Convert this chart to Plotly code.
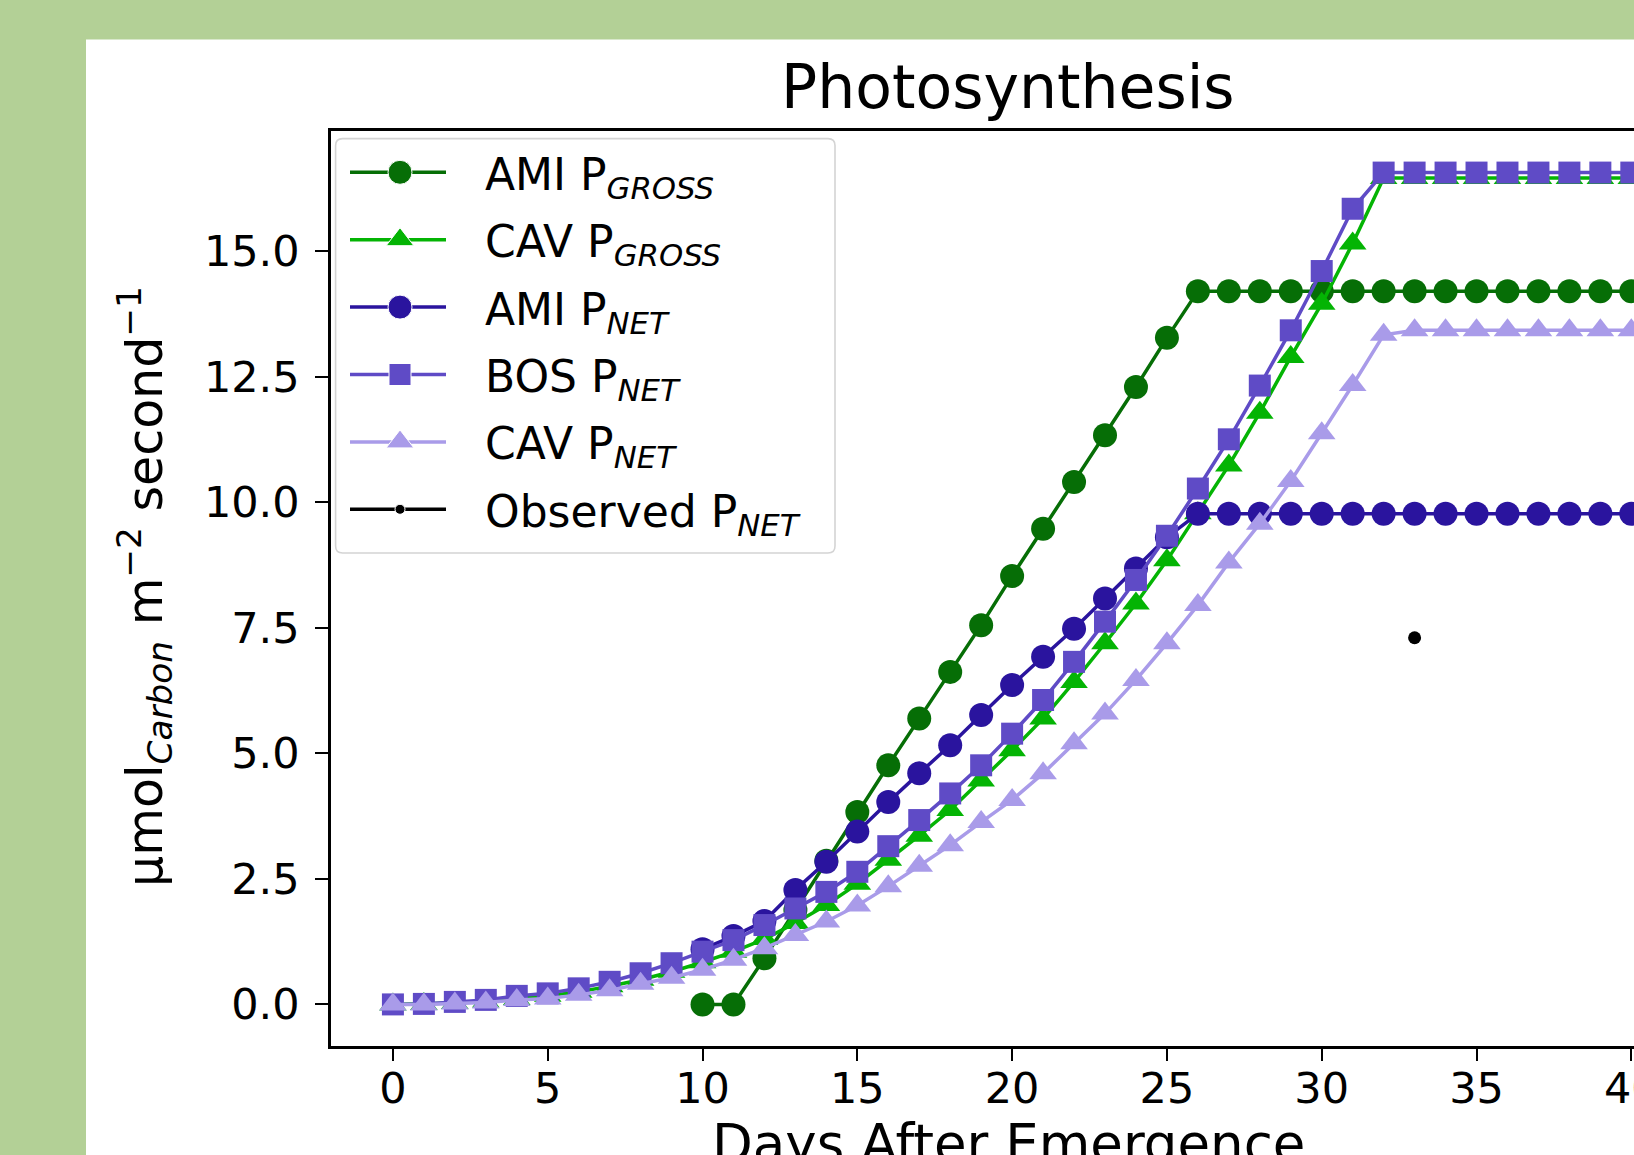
import plotly.graph_objects as go

# ---------------- data ----------------
days = [0, 1, 2, 3, 4, 5, 6, 7, 8, 9, 10, 11, 12, 13, 14, 15, 16, 17, 18, 19, 20,
        21, 22, 23, 24, 25, 26, 27, 28, 29, 30, 31, 32, 33, 34, 35, 36, 37, 38, 39, 40]

ami_gross = [None, None, None, None, None, None, None, None, None, None,
             0.00, 0.00, 0.92, 1.88, 2.86, 3.83, 4.76, 5.69, 6.62, 7.55, 8.53,
             9.47, 10.40, 11.33, 12.29, 13.27, 14.20, 14.20, 14.20, 14.20, 14.20,
             14.20, 14.20, 14.20, 14.20, 14.20, 14.20, 14.20, 14.20, 14.20, 14.20]

cav_gross = [0.00, 0.01, 0.03, 0.06, 0.11, 0.17, 0.25, 0.36, 0.49, 0.65, 0.84,
             1.05, 1.30, 1.62, 1.98, 2.40, 2.88, 3.36, 3.87, 4.46, 5.06,
             5.69, 6.42, 7.19, 7.98, 8.84, 9.78, 10.73, 11.78, 12.89, 13.95,
             15.15, 16.45, 16.45, 16.45, 16.45, 16.45, 16.45, 16.45, 16.45, 16.45]

ami_net = [None, None, None, None, None, None, None, None, None, None,
           1.10, 1.36, 1.66, 2.28, 2.84, 3.44, 4.03, 4.60, 5.16, 5.76, 6.36,
           6.92, 7.48, 8.08, 8.68, 9.30, 9.77, 9.77, 9.77, 9.77, 9.77,
           9.77, 9.77, 9.77, 9.77, 9.77, 9.77, 9.77, 9.77, 9.77, 9.77]

bos_net = [0.00, 0.01, 0.05, 0.09, 0.17, 0.22, 0.32, 0.45, 0.62, 0.82, 1.05,
           1.28, 1.58, 1.91, 2.24, 2.64, 3.15, 3.67, 4.20, 4.76, 5.39,
           6.06, 6.82, 7.62, 8.45, 9.33, 10.27, 11.25, 12.32, 13.42, 14.60,
           15.84, 16.56, 16.56, 16.56, 16.56, 16.56, 16.56, 16.56, 16.56, 16.56]

cav_net = [0.00, 0.00, 0.02, 0.04, 0.09, 0.12, 0.19, 0.28, 0.41, 0.53, 0.69,
           0.89, 1.12, 1.38, 1.65, 1.97, 2.35, 2.76, 3.17, 3.63, 4.07,
           4.60, 5.20, 5.79, 6.46, 7.19, 7.95, 8.80, 9.57, 10.42, 11.37,
           12.33, 13.33, 13.42, 13.42, 13.42, 13.42, 13.42, 13.42, 13.42, 13.42]

observed_days = [33]
observed_net = [7.30]

series_models = ["AMI", "CAV", "AMI", "BOS", "CAV", "Observed"]
series_kinds = ["GROSS", "GROSS", "NET", "NET", "NET", "NET"]
series_colors = ["#066e06", "#04b404", "#2a149e", "#5f4bc6", "#a99be9", "#000000"]
series_symbols = ["circle", "triangle-up", "circle", "square", "triangle-up", "circle"]
series_sizes = [24, 24, 24, 22, 24, 12]

x_ticks = [0, 5, 10, 15, 20, 25, 30, 35, 40]
y_ticks = [0.0, 2.5, 5.0, 7.5, 10.0, 12.5, 15.0]

title_text = "Photosynthesis"
x_title = "Days After Emergence"
y_title = "μmol<sub><i>Carbon</i></sub> m<sup>−2</sup> second<sup>−1</sup>"

# ---------------- layout geometry ----------------
FW, FH = 1634, 1155
L, T, B = 331, 131, 1046
W, H = FW - L, B - T
FONT = "DejaVu Sans"
BG_GREEN = "#b3d096"


def px_x(p):
    return (p - L) / W


def px_y(p):
    return (B - p) / H


fig = go.Figure()

ys = [ami_gross, cav_gross, ami_net, bos_net, cav_net]
for i, yv in enumerate(ys):
    fig.add_trace(go.Scatter(
        x=days, y=yv, mode="lines+markers",
        line=dict(color=series_colors[i], width=3.5),
        marker=dict(symbol=series_symbols[i], size=series_sizes[i],
                    color=series_colors[i], opacity=1),
        showlegend=False, hoverinfo="skip", connectgaps=False,
    ))

fig.add_trace(go.Scatter(
    x=observed_days, y=observed_net, mode="markers",
    marker=dict(symbol="circle", size=13, color="#000000", opacity=1),
    showlegend=False, hoverinfo="skip",
))

# ---------------- custom legend (pixel-unit overlay axes) ----------------
leg_l, leg_t, leg_r, leg_b, rad = 335.6, 138.6, 835.0, 553.0, 7
row0, row_gap = 172.3, 67.4
for i in range(len(series_models)):
    yy = row0 + i * row_gap
    msize = 10 if i == 5 else series_sizes[i]
    fig.add_trace(go.Scatter(
        x=[350, 400, 446], y=[yy, yy, yy], xaxis="x2", yaxis="y2",
        mode="lines+markers",
        line=dict(color=series_colors[i], width=3.5),
        marker=dict(symbol=series_symbols[i], size=[0, msize, 0],
                    color=series_colors[i], opacity=1),
        showlegend=False, hoverinfo="skip",
    ))

annotations = []
for i in range(len(series_models)):
    yy = row0 + i * row_gap
    annotations.append(dict(
        text=f"{series_models[i]} P<sub><i>{series_kinds[i]}</i></sub>",
        xref="paper", yref="paper", x=px_x(483), y=px_y(yy + 5),
        xanchor="left", yanchor="middle", showarrow=False,
        font=dict(family=FONT, size=44, color="#000000"),
    ))

# title
annotations.append(dict(
    text=title_text, xref="paper", yref="paper", x=px_x(1008), y=px_y(86.5),
    xanchor="center", yanchor="middle", showarrow=False,
    font=dict(family=FONT, size=60, color="#000000"),
))
# x-axis title (cut by the bottom edge, as in the reference)
annotations.append(dict(
    text=x_title, xref="paper", yref="paper", x=px_x(1008), y=px_y(1143),
    xanchor="center", yanchor="middle", showarrow=False,
    font=dict(family=FONT, size=53, color="#000000"),
))
# y-axis title
annotations.append(dict(
    text=y_title, xref="paper", yref="paper", x=px_x(144), y=px_y(587),
    xanchor="center", yanchor="middle", showarrow=False, textangle=-90,
    font=dict(family=FONT, size=49, color="#000000"),
))

legend_path = (
    f"M {leg_l + rad},{leg_t} L {leg_r - rad},{leg_t} Q {leg_r},{leg_t} {leg_r},{leg_t + rad} "
    f"L {leg_r},{leg_b - rad} Q {leg_r},{leg_b} {leg_r - rad},{leg_b} "
    f"L {leg_l + rad},{leg_b} Q {leg_l},{leg_b} {leg_l},{leg_b - rad} "
    f"L {leg_l},{leg_t + rad} Q {leg_l},{leg_t} {leg_l + rad},{leg_t} Z"
)

shapes = [
    # white figure panel on the green page
    dict(type="rect", xref="paper", yref="paper",
         x0=px_x(86), x1=1.2, y0=-0.3, y1=px_y(39.5),
         fillcolor="#ffffff", line=dict(width=0), layer="below"),
    # legend frame
    dict(type="path", xref="x2", yref="y2", path=legend_path,
         fillcolor="#ffffff", line=dict(color="#d4d4d4", width=1.6), layer="below"),
]

fig.update_layout(
    width=FW, height=FH,
    margin=dict(l=L, r=0, t=T, b=FH - B, pad=0, autoexpand=False),
    paper_bgcolor=BG_GREEN, plot_bgcolor="#ffffff",
    font=dict(family=FONT, color="#000000"),
    showlegend=False,
    annotations=annotations,
    shapes=shapes,
    xaxis=dict(
        range=[-2.0, -2.0 + W / 30.96], tickvals=x_ticks, ticktext=[str(v) for v in x_ticks],
        showgrid=False, zeroline=False, automargin=False,
        showline=True, linecolor="#000000", linewidth=2.5, mirror=True,
        ticks="outside", ticklen=12, tickwidth=2, tickcolor="#000000",
        ticklabelstandoff=-9, ticklabeloverflow="allow",
        tickfont=dict(family=FONT, size=43, color="#000000"),
    ),
    yaxis=dict(
        range=[-0.828, 17.388], tickvals=y_ticks, ticktext=[f"{v:.1f}" for v in y_ticks],
        showgrid=False, zeroline=False, automargin=False,
        showline=True, linecolor="#000000", linewidth=2.5, mirror=False,
        ticks="outside", ticklen=13, tickwidth=2, tickcolor="#000000",
        ticklabelstandoff=7,
        tickfont=dict(family=FONT, size=43, color="#000000"),
    ),
    xaxis2=dict(range=[L, FW], overlaying="x", anchor="y2", visible=False,
                showgrid=False, zeroline=False, automargin=False),
    yaxis2=dict(range=[B, T], overlaying="y", anchor="x2", visible=False,
                showgrid=False, zeroline=False, automargin=False),
)

# keep text that runs past the figure edge clipped at the edge (as in the reference)
clip_js = (
    "var d=document.getElementById('{plot_id}');"
    "d.style.overflow='hidden';d.style.width='1634px';d.style.height='1155px';"
    "document.documentElement.style.overflow='hidden';"
    "document.body.style.overflow='hidden';document.body.style.margin='0';"
    "d.querySelectorAll('.main-svg').forEach(function(s){s.style.overflow='hidden';});"
)

fig.write_html("out.html", post_script=clip_js)
